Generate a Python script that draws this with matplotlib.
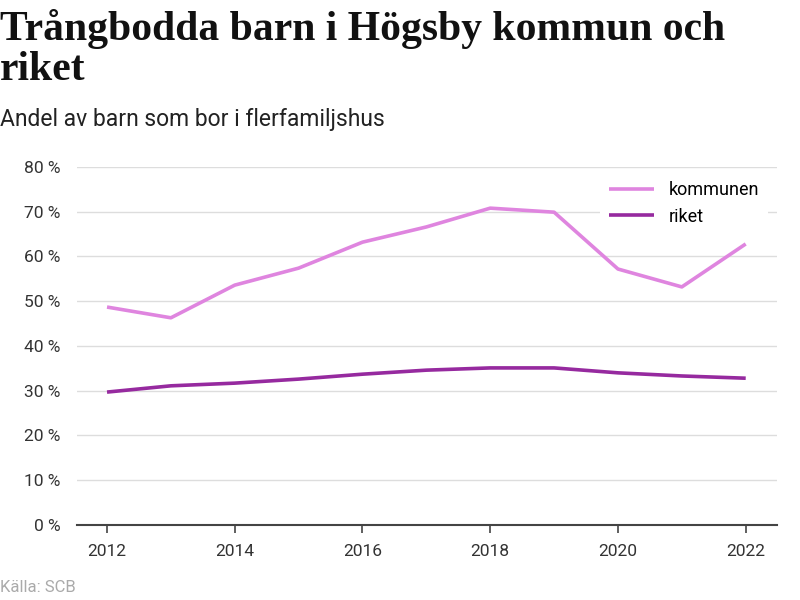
import matplotlib.pyplot as plt

years = [2012, 2013, 2014, 2015, 2016, 2017, 2018, 2019, 2020, 2021, 2022]
kommunen = [48.7, 46.3, 53.6, 57.4, 63.2, 66.6, 70.8, 69.9, 57.2, 53.2, 62.8]
riket = [29.7, 31.1, 31.7, 32.6, 33.7, 34.6, 35.1, 35.1, 34.0, 33.3, 32.8]

yticks = [0, 10, 20, 30, 40, 50, 60, 70, 80]
xticks = [2012, 2014, 2016, 2018, 2020, 2022]

plt.rcParams['font.family'] = ['Roboto', 'DejaVu Sans']

fig = plt.figure(figsize=(8, 6), dpi=100)
ax = fig.add_axes([0.09625, 0.125, 0.875, 0.5967])

ax.plot(years, kommunen, color='#df85df', linewidth=2.6, label='kommunen', solid_capstyle='butt')
ax.plot(years, riket, color='#962a9f', linewidth=2.6, label='riket', solid_capstyle='butt')

ax.set_xlim(2011.53, 2022.49)
ax.set_ylim(0, 80)
ax.set_yticks(yticks)
ax.set_yticklabels([f"{v} %" for v in yticks])
ax.set_xticks(xticks)
ax.set_xticklabels([str(x) for x in xticks])

ax.grid(axis='y', color='#dddddd', linewidth=1)
ax.set_axisbelow(True)
for s in ['top', 'right', 'left']:
    ax.spines[s].set_visible(False)
ax.spines['bottom'].set_color('#444444')
ax.spines['bottom'].set_linewidth(1.5)
ax.tick_params(axis='y', length=0, pad=12, labelsize=12.5, labelcolor='#333333')
ax.tick_params(axis='x', length=6, width=1.2, color='#444444', pad=8, labelsize=12.5, labelcolor='#333333')

leg = ax.legend(loc='upper right', bbox_to_anchor=(1.0, 1.01), frameon=True, fontsize=13,
                handlelength=2.5, handletextpad=0.8, borderpad=0.5, labelspacing=0.45)
leg.get_frame().set_edgecolor('none')
leg.get_frame().set_facecolor('white')
leg.get_frame().set_alpha(1)
leg.get_frame().set_boxstyle('square', pad=0)

fig.text(0.0, 0.985, "Trångbodda barn i Högsby kommun och\nriket", fontsize=30, fontweight='bold',
         family=['Liberation Serif', 'DejaVu Serif'], color='#111111', va='top', ha='left', linespacing=1.08)
fig.text(0.0, 0.782, "Andel av barn som bor i flerfamiljshus", fontsize=16.5, color='#222222', va='bottom', ha='left')
fig.text(0.0, 0.008, "Källa: SCB", fontsize=12, color='#aaaaaa', va='bottom', ha='left')

fig.savefig('out.png', dpi=100)
